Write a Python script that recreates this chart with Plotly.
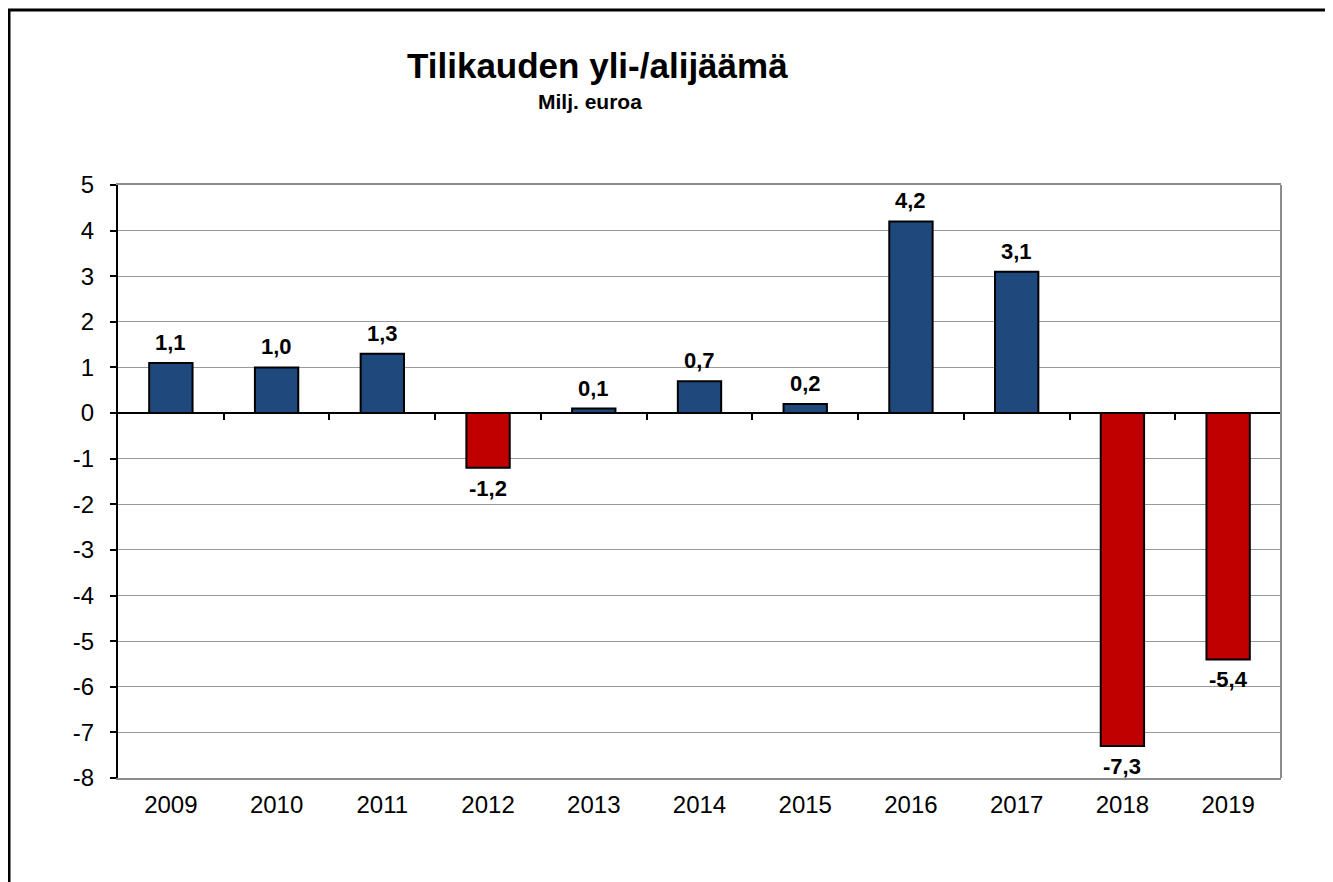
import plotly.graph_objects as go

years = ["2009", "2010", "2011", "2012", "2013", "2014", "2015", "2016", "2017", "2018", "2019"]
values = [1.1, 1.0, 1.3, -1.2, 0.1, 0.7, 0.2, 4.2, 3.1, -7.3, -5.4]
y_ticks = [5, 4, 3, 2, 1, 0, -1, -2, -3, -4, -5, -6, -7, -8]
y_tick_labels = ["5", "4", "3", "2", "1", "0", "-1", "-2", "-3", "-4", "-5", "-6", "-7", "-8"]
title_text = "Tilikauden yli-/alijäämä"
subtitle_text = "Milj. euroa"

BLUE = "#1F497D"
RED = "#C00000"
GRID = "#999999"
FONT = "Liberation Sans, Arial, sans-serif"

# page body has an 8px margin; work in page pixels and convert
OFF = 8
W, H = 1333 - OFF, 882 - OFF
PL, PR, PT, PB = 118, 1281, 185, 778  # plot area in page pixels
L, T = PL - OFF, PT - OFF
R, B = W - (PR - OFF), H - (PB - OFF)
PW, PH = PR - PL, PB - PT

def px_x(px):
    return (px - PL) / PW

def px_y(py):
    return (PB - py) / PH

xpos = list(range(len(years)))
colors = [BLUE if v >= 0 else RED for v in values]
labels = [f"{v:.1f}".replace(".", ",") for v in values]

fig = go.Figure()
fig.add_trace(go.Bar(
    x=xpos, y=values, width=0.41,
    marker=dict(color=colors, line=dict(color="black", width=2)),
    hoverinfo="skip", showlegend=False,
))
# invisible trace to register the zero-line axis
fig.add_trace(go.Scatter(x=[None], y=[None], xaxis="x2", yaxis="y",
                         mode="markers", showlegend=False, hoverinfo="skip"))

xr = [-0.5, len(years) - 0.5]
ymin, ymax = -8, 5

annotations = [
    dict(text=title_text, xref="paper", yref="paper",
         x=px_x(597), y=px_y(66), xanchor="center", yanchor="middle",
         showarrow=False,
         font=dict(family=FONT, size=35, color="black", weight="bold")),
    dict(text=subtitle_text, xref="paper", yref="paper",
         x=px_x(590), y=px_y(101), xanchor="center", yanchor="middle",
         showarrow=False,
         font=dict(family=FONT, size=21, color="black", weight="bold")),
]
for xi, v, lab in zip(xpos, values, labels):
    annotations.append(dict(
        text=lab, x=xi, y=v, xref="x", yref="y",
        xanchor="center", yanchor="bottom" if v >= 0 else "top",
        yshift=6 if v >= 0 else -6, showarrow=False,
        font=dict(family=FONT, size=22, color="black", weight="bold"),
    ))

fig.update_layout(
    width=W, height=H,
    margin=dict(l=L, r=R, t=T, b=B, autoexpand=False),
    paper_bgcolor="white", plot_bgcolor="white",
    font=dict(family=FONT, color="black"),
    bargap=0.59,
    xaxis=dict(
        range=xr, tickmode="array", tickvals=xpos, ticktext=years,
        tickfont=dict(family=FONT, size=24, color="black"),
        showgrid=False, zeroline=False,
        showline=True, linecolor="#8c8c8c", linewidth=2, mirror=True,
        ticks="", ticklabelstandoff=4,
    ),
    xaxis2=dict(
        range=xr, overlaying="x", anchor="free",
        position=(0 - ymin) / (ymax - ymin),
        showline=True, linecolor="black", linewidth=1.5,
        ticks="outside", tickmode="array",
        tickvals=[i + 0.5 for i in range(len(years) - 1)],
        ticklen=6, tickcolor="black", tickwidth=1.5,
        showticklabels=False, showgrid=False, zeroline=False,
    ),
    yaxis=dict(
        range=[ymin, ymax], tickmode="array", tickvals=y_ticks, ticktext=y_tick_labels,
        tickfont=dict(family=FONT, size=24, color="black"),
        showgrid=True, gridcolor=GRID, gridwidth=1, zeroline=False,
        showline=True, linecolor="black", linewidth=2,
        ticks="outside", ticklen=6, tickcolor="black", tickwidth=1.5,
        ticklabelstandoff=11,
    ),
    shapes=[
        dict(type="line", xref="paper", yref="paper", x0=1, x1=1, y0=0, y1=1,
             line=dict(color="#8c8c8c", width=2)),
        dict(type="rect", xref="paper", yref="paper",
             x0=px_x(9), x1=px_x(1328), y0=px_y(905), y1=px_y(10),
             line=dict(color="black", width=3), fillcolor="rgba(0,0,0,0)"),
    ],
    annotations=annotations,
)

fig.write_html("out.html")
